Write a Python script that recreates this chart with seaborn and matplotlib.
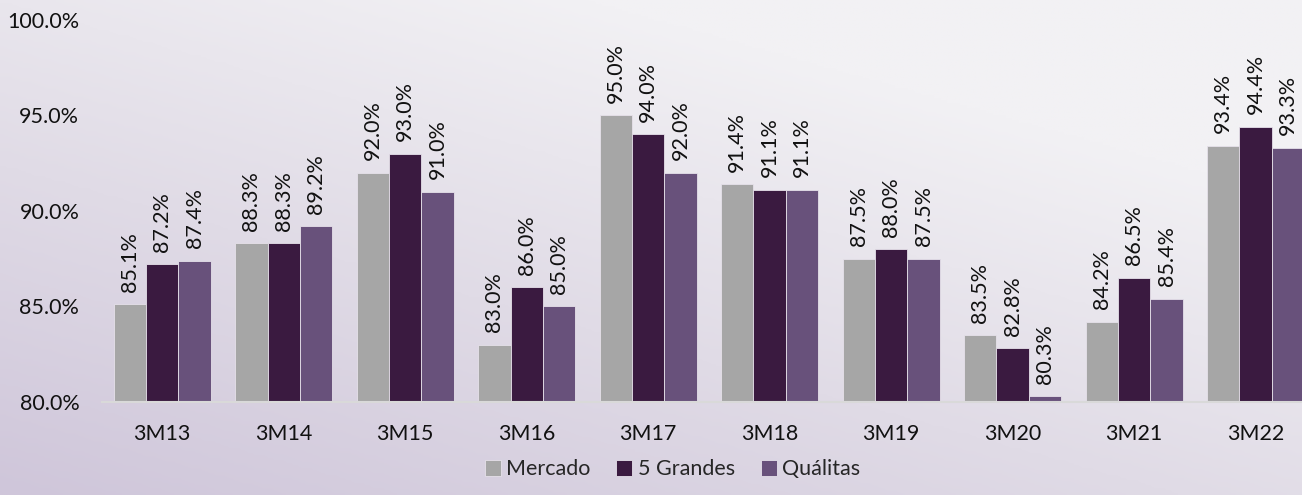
import matplotlib.pyplot as plt
import matplotlib.colors as mcolors
import numpy as np
import pandas as pd
import seaborn as sns

periodos = ['3M13', '3M14', '3M15', '3M16', '3M17', '3M18', '3M19', '3M20', '3M21', '3M22']
mercado = [85.1, 88.3, 92.0, 83.0, 95.0, 91.4, 87.5, 83.5, 84.2, 93.4]
cinco_grandes = [87.2, 88.3, 93.0, 86.0, 94.0, 91.1, 88.0, 82.8, 86.5, 94.4]
qualitas = [87.4, 89.2, 91.0, 85.0, 92.0, 91.1, 87.5, 80.3, 85.4, 93.3]
series = ['Mercado', '5 Grandes', 'Quálitas']
colores = ['#a6a6a6', '#3e1446', '#694a82']

df = pd.DataFrame({
    'periodo': periodos * 3,
    'valor': mercado + cinco_grandes + qualitas,
    'serie': [s for s in series for _ in periodos],
})

sns.set_theme(style='white')
plt.rcParams['font.family'] = ['Lato', 'DejaVu Sans']

fig = plt.figure(figsize=(13.02, 4.95), dpi=100)

# fondo degradado
bg = fig.add_axes([0, 0, 1, 1], zorder=-10)
xx, yy = np.meshgrid(np.linspace(0, 1, 200), np.linspace(0, 1, 200))
t = np.clip(0.55 * xx + 0.75 * yy, 0, 1)
cmap = mcolors.LinearSegmentedColormap.from_list('bg', ['#cfc6da', '#e0dbe6', '#f2f1f4'])
bg.imshow(t, cmap=cmap, origin='lower', aspect='auto', extent=[0, 1, 0, 1])
bg.axis('off')

ax = fig.add_axes([0.078, 0.188, 0.933, 0.772])
ax.patch.set_alpha(0)
sns.barplot(data=df, x='periodo', y='valor', hue='serie', palette=colores,
            width=0.8, edgecolor='#e6e1ea', linewidth=0.6, ax=ax)

for cont in ax.containers:
    ax.bar_label(cont, labels=[f'{v:.1f}%' for v in cont.datavalues],
                 rotation=90, padding=9, fontsize=15.5, color='#111111')

ax.set_ylim(80, 100)
ax.set_xlim(-0.5, 9.5)
ax.set_yticks([80, 85, 90, 95, 100])
ax.set_yticklabels([f'{v:.1f}%' for v in [80, 85, 90, 95, 100]], fontsize=15.5, color='#111111')
ax.tick_params(axis='x', labelsize=15.5, colors='#111111', pad=16, length=0)
ax.tick_params(axis='y', pad=16, length=0)
ax.set_xlabel('')
ax.set_ylabel('')
for s in ['top', 'right', 'left']:
    ax.spines[s].set_visible(False)
ax.spines['bottom'].set_color('#d9d9d9')
ax.spines['bottom'].set_linewidth(1.5)

ax.legend(loc='upper center', bbox_to_anchor=(0.47, -0.128), ncol=3, frameon=False,
          fontsize=15.5, handlelength=0.75, handleheight=0.75, handletextpad=0.25,
          columnspacing=1.2, borderaxespad=0)

fig.savefig('out.png', dpi=100)
